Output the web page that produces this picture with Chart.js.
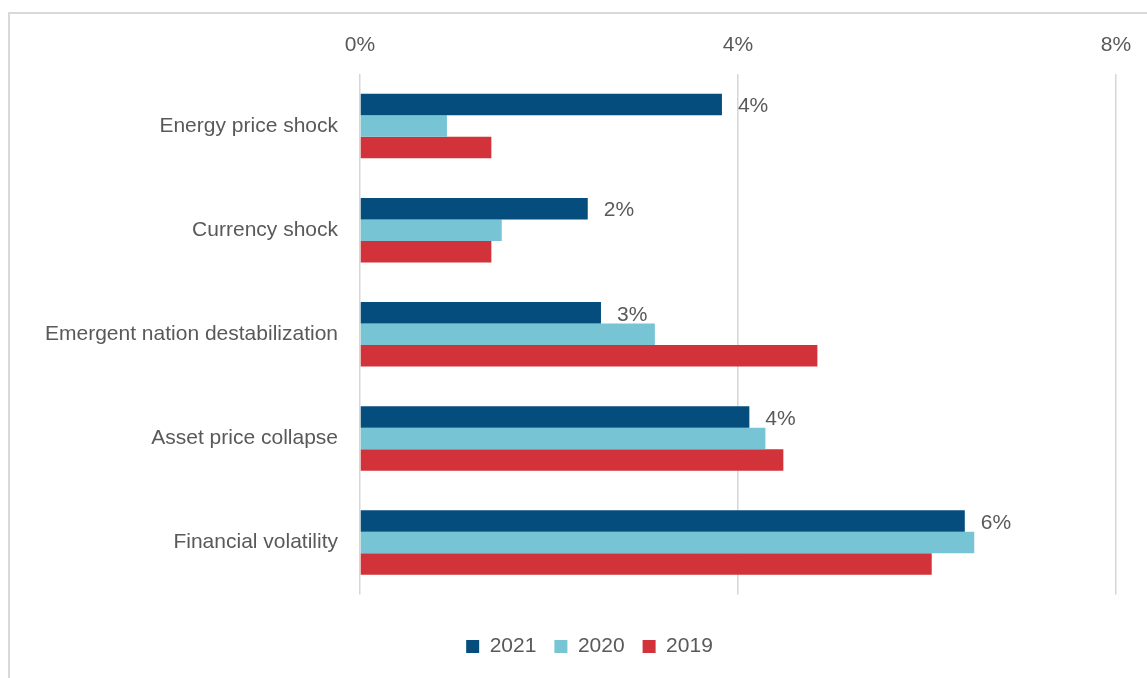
<!DOCTYPE html>
<html>
<head>
<meta charset="utf-8">
<script src="https://cdn.jsdelivr.net/npm/chart.js@4"></script>
<style>
  html, body { margin: 0; padding: 0; background: #fff; overflow: hidden; }
  #frame {
    position: absolute; left: 8px; top: 12px; width: 1200px; height: 700px;
    border-top: 2px solid #d9d9d9; border-left: 2px solid #d9d9d9;
  }
  #wrap { position: absolute; left: 9px; top: 13px; width: 1161px; height: 665px; }
</style>
</head>
<body>
<div id="frame"></div>
<div id="wrap"><canvas id="chart"></canvas></div>
<script>
// Datos (porcentajes)
const categorias = ['Energy price shock', 'Currency shock', 'Emergent nation destabilization', 'Asset price collapse', 'Financial volatility'];
const anios = ['2021', '2020', '2019'];
const valores2021 = [3.83, 2.41, 2.55, 4.12, 6.40];
const valores2020 = [0.92, 1.50, 3.12, 4.29, 6.50];
const valores2019 = [1.39, 1.39, 4.84, 4.48, 6.05];
const ticksX = [0, 4, 8];

// Colores
const azulOscuro = '#044d7c';
const celeste = '#77c4d4';
const rojo = '#d23239';
const gris = '#595959';

const fuente = 'Liberation Sans';
const tam = 21;

// Etiquetas de valor solo sobre la serie 2021
const etiquetas2021 = {
  id: 'etiquetas2021',
  afterDatasetsDraw(chart) {
    const ctx = chart.ctx;
    const meta = chart.getDatasetMeta(0);
    ctx.save();
    ctx.font = `${tam}px "${fuente}"`;
    ctx.fillStyle = gris;
    ctx.textAlign = 'left';
    ctx.textBaseline = 'middle';
    meta.data.forEach((bar, i) => {
      ctx.fillText(Math.round(valores2021[i]) + '%', bar.x + 16, bar.y + 2);
    });
    ctx.restore();
  }
};

// La leyenda del original esta centrada en todo el ancho del grafico
const moverLeyenda = {
  id: 'moverLeyenda',
  afterLayout(chart) {
    chart.legend.left += 27;
    chart.legend.right += 27;
  }
};

new Chart(document.getElementById('chart'), {
  type: 'bar',
  data: {
    labels: categorias,
    datasets: [
      { label: anios[0], data: valores2021, backgroundColor: azulOscuro },
      { label: anios[1], data: valores2020, backgroundColor: celeste },
      { label: anios[2], data: valores2019, backgroundColor: rojo }
    ]
  },
  options: {
    indexAxis: 'y',
    responsive: true,
    maintainAspectRatio: false,
    animation: false,
    layout: { padding: { top: 0, right: 54, bottom: 11, left: 0 } },
    datasets: { bar: { categoryPercentage: 0.62, barPercentage: 1 } },
    scales: {
      x: {
        position: 'top',
        min: 0,
        max: 8,
        afterBuildTicks: axis => { axis.ticks = ticksX.map(v => ({ value: v })); },
        afterFit: axis => { axis.height = 61; },
        ticks: {
          color: gris,
          padding: 16,
          font: { family: fuente, size: tam },
          callback: v => v + '%'
        },
        grid: { color: '#d6d6d6', lineWidth: 1.5, drawTicks: false },
        border: { display: false }
      },
      y: {
        afterFit: axis => { axis.width = 351; },
        ticks: { color: gris, padding: 22, font: { family: fuente, size: tam } },
        grid: { display: false, drawTicks: false },
        border: { display: false }
      }
    },
    plugins: {
      tooltip: { enabled: false },
      legend: {
        position: 'bottom',
        title: { display: true, text: '', padding: { top: 9, bottom: 0 }, font: { size: 12 } },
        labels: {
          color: gris,
          boxWidth: 13,
          boxHeight: 13,
          padding: 18,
          font: { family: fuente, size: tam }
        }
      }
    }
  },
  plugins: [etiquetas2021, moverLeyenda]
});
</script>
</body>
</html>
